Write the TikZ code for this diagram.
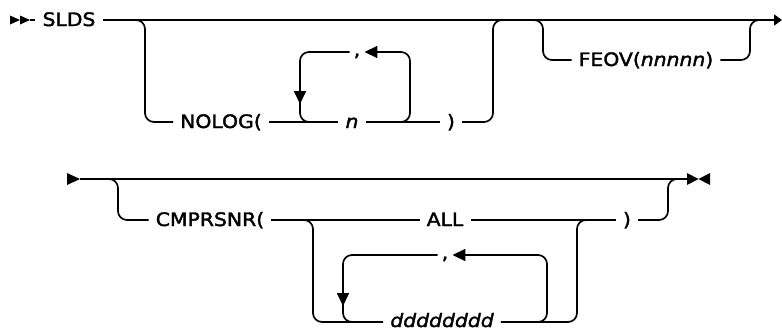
\documentclass[tikz,border=0pt]{standalone}
\usepackage{fontspec}
\setmainfont{DejaVu Sans}[ItalicFont={DejaVu Sans Oblique},BoldFont={DejaVu Sans Bold},FakeStretch=1.1,FakeBold=2]
\usetikzlibrary{arrows.meta}
\tikzset{
  rail/.style={line width=1.7pt, rounded corners=9pt},
  lbl/.style={inner xsep=7pt, inner ysep=0pt, text height=13pt, text depth=1pt, font=\fontsize{18.5}{22}\selectfont},
  lbllow/.style={lbl, text height=12pt, text depth=2pt},
  cma/.style={inner xsep=4pt, inner ysep=0pt, text height=9pt, text depth=1pt, font=\fontsize{18.5}{22}\selectfont},
  tip/.style={-{Triangle[length=13pt,width=12pt]}},
}
\begin{document}
\begin{tikzpicture}[x=1pt,y=-1pt]
\useasboundingbox (0,0) rectangle (782,330);
% ---------- row 1 ----------
\fill (10,15.5) -- (20,20) -- (10,24.5) -- cycle;
\fill (20,15.5) -- (30,20) -- (20,24.5) -- cycle;
\node[lbl] (slds) at (69,20) {SLDS};
\coordinate (e1) at (782,20);
\draw[line width=1.7pt] (30,20) -- (slds.west);
\draw[line width=1.7pt, -{Triangle[length=8pt,width=11pt]}] (slds.east) -- (e1);
% NOLOG branch
\node[lbl] (nolog) at (221,122) {NOLOG(};
\node[lbl] (nn) at (352,122) {\itshape n};
\node[lbl] (rp1) at (451,122) {)};
\node[cma] (c1) at (357,52) {,};
\draw[rail] (128,20) -| (145,122) -- (nolog.west);
\draw[rail] (nolog.east) -- (nn.west);
\draw[rail] (nn.east) -- (rp1.west);
\draw[rail] (rp1.east) -| (493,20) -- (508,20);
% repeat loop 1
\draw[rail, tip] (c1.west) -| (300,104);
\draw[rail] (300,100) |- (318,122);
\draw[rail, tip] (392,122) -| (410,52) -- (c1.east);
% FEOV branch
\node[lbl] (feov) at (646,60) {FEOV(\textit{nnnnn})};
\draw[rail] (526,20) -| (543,60) -- (feov.west);
\draw[rail] (feov.east) -| (750,20) -- (765,20);
% ---------- row 2 ----------
\fill (67,173) -- (80,179) -- (67,185) -- cycle;
\coordinate (s2) at (80,179);
\coordinate (e2) at (687,179);
\draw[line width=1.7pt] (s2) -- (e2);
\fill (687,173) -- (698.5,179) -- (687,185) -- cycle;
\fill (710,173) -- (698.5,179) -- (710,185) -- cycle;
% CMPRSNR branch
\node[lbl] (cmp) at (210,220) {CMPRSNR(};
\node[lbl] (all) at (445,220) {ALL};
\node[lbl] (rp2) at (627,220) {)};
\draw[rail] (101,179) -| (118,220) -- (cmp.west);
\draw[rail] (cmp.east) -- (all.west);
\draw[rail] (all.east) -- (rp2.west);
\draw[rail] (rp2.east) -| (668,179) -- (683,179);
% dddddddd branch
\node[lbllow] (dd) at (442,322) {\itshape dddddddd};
\node[cma] (c2) at (445,255) {,};
\draw[rail] (296,220) -| (313,322) -- (dd.west);
\draw[rail] (dd.east) -| (577,220) -- (592,220);
% repeat loop 2
\draw[rail, tip] (c2.west) -| (343,306);
\draw[rail] (343,302) |- (361,322);
\draw[rail, tip] (529,322) -| (547,255) -- (c2.east);
\end{tikzpicture}
\end{document}
